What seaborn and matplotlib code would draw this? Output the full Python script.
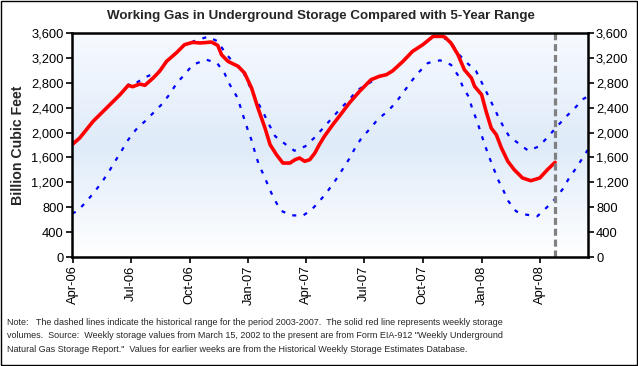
import numpy as np
import pandas as pd
import seaborn as sns
import matplotlib.pyplot as plt
import matplotlib.dates as mdates
from matplotlib.colors import LinearSegmentedColormap
from matplotlib.ticker import MultipleLocator, FuncFormatter

# weekly working gas in storage (Bcf)
storage_dates = [
    "2006-03-30", "2006-04-12", "2006-05-03", "2006-05-24", "2006-06-14", "2006-06-27",
    "2006-07-04", "2006-07-15", "2006-07-23", "2006-08-05", "2006-08-15", "2006-08-26",
    "2006-09-10", "2006-09-23", "2006-10-06", "2006-10-17", "2006-10-25", "2006-11-04",
    "2006-11-14", "2006-11-20", "2006-11-30", "2006-12-16", "2006-12-26", "2007-01-06",
    "2007-01-16", "2007-01-27", "2007-02-04", "2007-02-14", "2007-02-24", "2007-03-07",
    "2007-03-15", "2007-03-22", "2007-03-30", "2007-04-07", "2007-04-15", "2007-04-22",
    "2007-04-30", "2007-05-13", "2007-05-26", "2007-06-08", "2007-06-24", "2007-07-12",
    "2007-07-25", "2007-08-05", "2007-08-15", "2007-08-31", "2007-09-15", "2007-10-01",
    "2007-10-17", "2007-11-01", "2007-11-05", "2007-11-14", "2007-11-25", "2007-12-05",
    "2007-12-16", "2007-12-21", "2008-01-01", "2008-01-08", "2008-01-16", "2008-01-24",
    "2008-02-01", "2008-02-11", "2008-02-21", "2008-03-05", "2008-03-18", "2008-04-01",
    "2008-04-13", "2008-04-25",
]
storage_values = [
    1795, 1912, 2180, 2394, 2608, 2759,
    2737, 2780, 2759, 2877, 2984, 3145,
    3278, 3412, 3450, 3440, 3445, 3455,
    3402, 3251, 3145, 3064, 2957, 2716,
    2394, 2073, 1805, 1644, 1510, 1510,
    1564, 1591, 1538, 1564, 1671, 1805,
    1940, 2126, 2298, 2475, 2663, 2850,
    2904, 2930, 2994, 3145, 3306, 3412,
    3546, 3546, 3530, 3439, 3251, 3010,
    2877, 2743, 2608, 2341, 2073, 1965,
    1752, 1538, 1403, 1270, 1226, 1270,
    1403, 1522,
]

# 5-year maximum
upper_dates = [
    "2006-03-30", "2006-04-12", "2006-05-03", "2006-05-24", "2006-06-14", "2006-06-27",
    "2006-07-07", "2006-07-23", "2006-08-13", "2006-08-26", "2006-09-10", "2006-09-23",
    "2006-10-11", "2006-10-30", "2006-11-14", "2006-11-25", "2006-12-09", "2006-12-23",
    "2007-01-08", "2007-01-26", "2007-02-03", "2007-02-12", "2007-03-01", "2007-03-14",
    "2007-03-31", "2007-04-15", "2007-04-29", "2007-05-12", "2007-05-25", "2007-06-08",
    "2007-06-20", "2007-07-07", "2007-07-25", "2007-08-05", "2007-08-15", "2007-08-31",
    "2007-09-15", "2007-10-01", "2007-10-17", "2007-10-27", "2007-11-14", "2007-11-23",
    "2007-12-08", "2007-12-23", "2008-01-08", "2008-01-26", "2008-02-03", "2008-02-13",
    "2008-02-29", "2008-03-14", "2008-03-31", "2008-04-13", "2008-04-27", "2008-05-10",
    "2008-05-25", "2008-06-08", "2008-06-15",
]
upper_values = [
    1790, 1912, 2180, 2394, 2608, 2770,
    2780, 2888, 2973, 3145, 3290, 3400,
    3482, 3540, 3466, 3294, 3118, 2994,
    2635, 2287, 2116, 1940, 1805, 1708,
    1779, 1924, 2084, 2234, 2384, 2528,
    2679, 2780, 2904, 2930, 2994, 3145,
    3306, 3412, 3546, 3550, 3466, 3294,
    3129, 2994, 2663, 2277, 2116, 1940,
    1816, 1708, 1779, 1924, 2084, 2234,
    2384, 2539, 2580,
]

# 5-year minimum
lower_dates = [
    "2006-03-31", "2006-04-08", "2006-04-22", "2006-05-05", "2006-05-17", "2006-05-28",
    "2006-06-07", "2006-06-17", "2006-06-27", "2006-07-09", "2006-07-23", "2006-08-05",
    "2006-08-19", "2006-08-31", "2006-09-11", "2006-09-23", "2006-10-06", "2006-10-27",
    "2006-11-13", "2006-11-25", "2006-12-03", "2006-12-15", "2006-12-25", "2006-12-31",
    "2007-01-07", "2007-01-12", "2007-01-18", "2007-01-26", "2007-02-03", "2007-02-11",
    "2007-02-21", "2007-03-09", "2007-03-27", "2007-04-09", "2007-04-23", "2007-05-06",
    "2007-05-18", "2007-05-28", "2007-06-08", "2007-06-17", "2007-06-27", "2007-07-10",
    "2007-07-23", "2007-08-07", "2007-08-20", "2007-09-01", "2007-09-13", "2007-09-25",
    "2007-10-09", "2007-10-28", "2007-11-14", "2007-11-25", "2007-12-03", "2007-12-12",
    "2007-12-17", "2007-12-24", "2007-12-30", "2008-01-05", "2008-01-12", "2008-01-19",
    "2008-01-26", "2008-02-04", "2008-02-12", "2008-02-24", "2008-03-11", "2008-03-28",
    "2008-04-11", "2008-04-25", "2008-05-07", "2008-05-17", "2008-05-28", "2008-06-15",
]
lower_values = [
    700, 734, 884, 1045, 1205, 1377,
    1548, 1714, 1885, 2046, 2180, 2314,
    2459, 2619, 2796, 2930, 3090, 3171,
    3118, 2946, 2769, 2560, 2234, 2046,
    1848, 1655, 1467, 1297, 1093, 921,
    744, 670, 664, 750, 905, 1071,
    1243, 1403, 1580, 1752, 1912, 2057,
    2218, 2341, 2486, 2652, 2823, 2973,
    3118, 3161, 3090, 2920, 2727, 2571,
    2394, 2206, 2020, 1832, 1628, 1446,
    1258, 1071, 895, 734, 680, 654,
    787, 932, 1093, 1270, 1430, 1720,
]

latest_week = "2008-04-25"

title = "Working Gas in Underground Storage Compared with 5-Year Range"
ylabel = "Billion Cubic Feet"
note = ("Note:   The dashed lines indicate the historical range for the period 2003-2007.  "
        "The solid red line represents weekly storage\n"
        "volumes.  Source:  Weekly storage values from March 15, 2002 to the present are from "
        "Form EIA-912 \"Weekly Underground\n"
        "Natural Gas Storage Report.\"  Values for earlier weeks are from the Historical "
        "Weekly Storage Estimates Database.")

sns.set_style("white")
plt.rcParams["font.family"] = ["Liberation Sans", "DejaVu Sans"]

storage = pd.DataFrame({"date": pd.to_datetime(storage_dates), "bcf": storage_values})
upper = pd.DataFrame({"date": pd.to_datetime(upper_dates), "bcf": upper_values})
lower = pd.DataFrame({"date": pd.to_datetime(lower_dates), "bcf": lower_values})

fig = plt.figure(figsize=(6.38, 3.66), dpi=100)
pos = [72 / 638, 1 - 257 / 366, (587.7 - 72) / 638, 224 / 366]

# gradient background of the plot area
bg = fig.add_axes(pos, zorder=0)
cmap = LinearSegmentedColormap.from_list(
    "bg", [(0, "#ffffff"), (0.5, "#dfebf9"), (1, "#f7faff")])
bg.imshow(np.linspace(0, 1, 256).reshape(-1, 1), aspect="auto", cmap=cmap,
          origin="lower", extent=[0, 1, 0, 1])
bg.axis("off")

ax = fig.add_axes(pos, zorder=1)
ax.patch.set_alpha(0)

dash_blue = (0, (1.8, 3.4))
sns.lineplot(data=upper, x="date", y="bcf", ax=ax, color="#0000ff", lw=1.6, linestyle=dash_blue)
sns.lineplot(data=lower, x="date", y="bcf", ax=ax, color="#0000ff", lw=1.6, linestyle=dash_blue)
sns.lineplot(data=storage, x="date", y="bcf", ax=ax, color="#ff0000", lw=2.6)
ax.axvline(pd.Timestamp(latest_week), color="#808080", lw=2.3, linestyle=(0, (2.2, 1.2)))

ax.set_xlim(pd.Timestamp("2006-03-31"), pd.Timestamp("2008-06-15"))
ax.set_ylim(0, 3600)
ax.yaxis.set_major_locator(MultipleLocator(400))
ax.yaxis.set_major_formatter(FuncFormatter(lambda v, p: f"{int(v):,}"))
ax.xaxis.set_major_locator(mdates.MonthLocator(bymonth=[1, 4, 7, 10]))
ax.xaxis.set_major_formatter(mdates.DateFormatter("%b-%y"))

for s in ax.spines.values():
    s.set_color("black")
    s.set_linewidth(1.8)
ax.tick_params(axis="both", direction="out", length=4, width=1.2, labelsize=9.3,
               colors="black")
ax.tick_params(axis="y", left=True, right=True, labelleft=True, labelright=True, pad=2)
ax.tick_params(axis="x", bottom=True, labelrotation=90, pad=2)
ax.set_xlabel("")
ax.set_ylabel(ylabel, fontsize=10.2, fontweight="bold", labelpad=4)

fig.text(320.5 / 638, 1 - 16 / 366, title, ha="center", va="center", fontsize=9.6,
         fontweight="bold")
fig.text(7 / 638, 1 - 336 / 366, note, ha="left", va="center", fontsize=6.5,
         linespacing=1.6)

# outer frame
fig.patches.append(plt.Rectangle((0.0008, 0.0014), 0.9984, 0.997, transform=fig.transFigure,
                                 fill=False, edgecolor="black", lw=1))

fig.savefig("out.png", dpi=100)
